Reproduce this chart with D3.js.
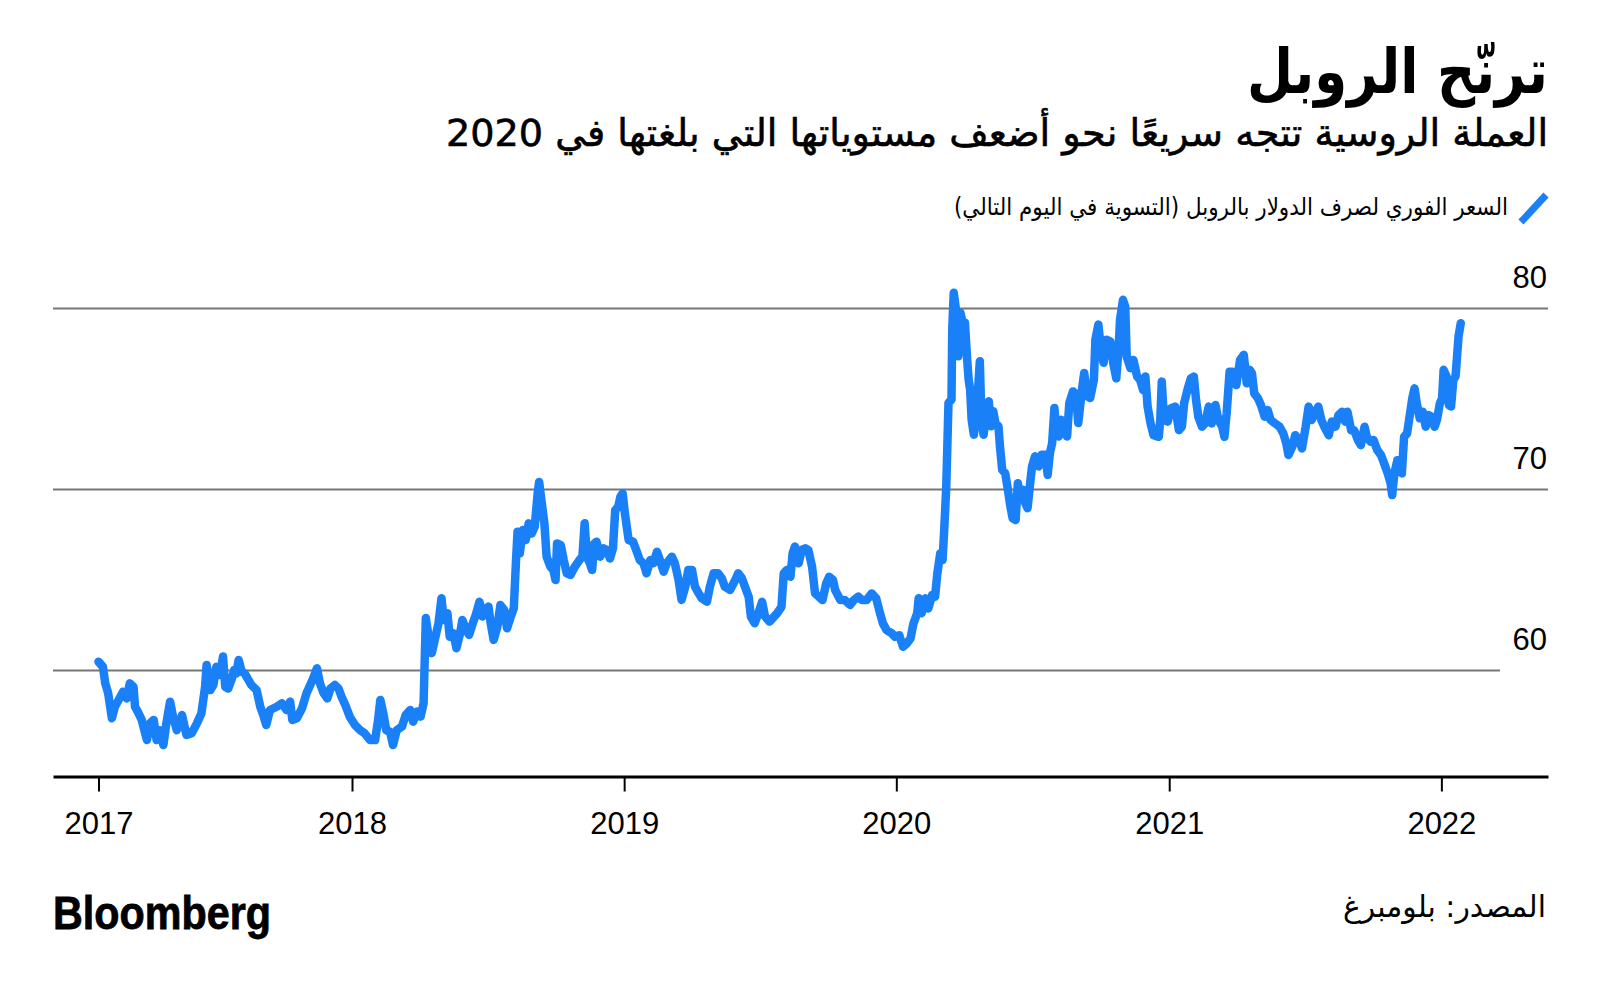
<!DOCTYPE html>
<html>
<head>
<meta charset="utf-8">
<script src="https://cdn.jsdelivr.net/npm/d3@7"></script>
<style>
  body { margin: 0; background: #fff; }
  svg { display: block; }
</style>
</head>
<body>
<svg id="chart" width="1600" height="994"></svg>
<script>

// USD/RUB spot (T+1)
var dates = [
 "2017-01-26","2017-02-01","2017-02-04","2017-02-08","2017-02-13","2017-02-17","2017-02-22","2017-02-28",
 "2017-03-05","2017-03-09","2017-03-14","2017-03-16","2017-03-20","2017-03-25","2017-03-29","2017-04-01",
 "2017-04-05","2017-04-10","2017-04-14","2017-04-18","2017-04-23","2017-04-27","2017-05-02","2017-05-06",
 "2017-05-11","2017-05-18","2017-05-24","2017-05-31","2017-06-07","2017-06-13","2017-06-18","2017-06-20",
 "2017-06-25","2017-06-29","2017-07-03","2017-07-08","2017-07-12","2017-07-15","2017-07-19","2017-07-24",
 "2017-07-27","2017-07-30","2017-08-02","2017-08-06","2017-08-10","2017-08-15","2017-08-19","2017-08-26",
 "2017-08-31","2017-09-04","2017-09-08","2017-09-13","2017-09-22","2017-09-29","2017-10-05","2017-10-10",
 "2017-10-13","2017-10-19","2017-10-26","2017-11-01","2017-11-07","2017-11-10","2017-11-15","2017-11-19",
 "2017-11-24","2017-11-29","2017-12-03","2017-12-09","2017-12-14","2017-12-18","2017-12-23","2017-12-29",
 "2018-01-05","2018-01-12","2018-01-18","2018-01-25","2018-02-01","2018-02-05","2018-02-08","2018-02-12",
 "2018-02-16","2018-02-21","2018-02-25","2018-03-02","2018-03-09","2018-03-14","2018-03-20","2018-03-24",
 "2018-03-29","2018-04-03","2018-04-07","2018-04-10","2018-04-13","2018-04-18","2018-04-22","2018-04-27",
 "2018-05-01","2018-05-04","2018-05-09","2018-05-12","2018-05-17","2018-05-21","2018-05-26","2018-05-29",
 "2018-06-03","2018-06-07","2018-06-12","2018-06-16","2018-06-21","2018-06-25","2018-06-30","2018-07-03",
 "2018-07-06","2018-07-10","2018-07-15","2018-07-19","2018-07-24","2018-07-28","2018-08-02","2018-08-06",
 "2018-08-09","2018-08-11","2018-08-14","2018-08-18","2018-08-22","2018-08-26","2018-08-30","2018-09-03",
 "2018-09-07","2018-09-09","2018-09-12","2018-09-16","2018-09-19","2018-09-24","2018-09-28","2018-10-01",
 "2018-10-03","2018-10-08","2018-10-12","2018-10-16","2018-10-21","2018-10-27","2018-11-02","2018-11-06",
 "2018-11-09","2018-11-12","2018-11-16","2018-11-19","2018-11-22","2018-11-25","2018-11-30","2018-12-04",
 "2018-12-09","2018-12-13","2018-12-17","2018-12-20","2018-12-24","2018-12-27","2018-12-30","2019-01-02",
 "2019-01-07","2019-01-13","2019-01-18","2019-01-22","2019-01-27","2019-01-31","2019-02-05","2019-02-09",
 "2019-02-14","2019-02-18","2019-02-23","2019-02-27","2019-03-06","2019-03-10","2019-03-15","2019-03-19",
 "2019-03-24","2019-03-28","2019-04-02","2019-04-06","2019-04-11","2019-04-15","2019-04-22","2019-04-26",
 "2019-05-01","2019-05-07","2019-05-12","2019-05-16","2019-05-23","2019-05-30","2019-06-03","2019-06-08",
 "2019-06-12","2019-06-17","2019-06-20","2019-06-25","2019-06-30","2019-07-05","2019-07-09","2019-07-15",
 "2019-07-25","2019-07-31","2019-08-03","2019-08-07","2019-08-12","2019-08-15","2019-08-18","2019-08-23",
 "2019-08-27","2019-09-01","2019-09-05","2019-09-10","2019-09-14","2019-09-19","2019-09-24","2019-09-29",
 "2019-10-03","2019-10-08","2019-10-11","2019-10-18","2019-10-24","2019-10-31","2019-11-05","2019-11-11",
 "2019-11-16","2019-11-22","2019-11-29","2019-12-05","2019-12-09","2019-12-14","2019-12-19","2019-12-26",
 "2019-12-30","2020-01-05","2020-01-10","2020-01-15","2020-01-20","2020-01-24","2020-01-29","2020-01-31",
 "2020-02-04","2020-02-09","2020-02-13","2020-02-18","2020-02-22","2020-02-25","2020-02-29","2020-03-03",
 "2020-03-05","2020-03-08","2020-03-10","2020-03-11","2020-03-15","2020-03-16","2020-03-18","2020-03-21",
 "2020-03-24","2020-03-27","2020-03-30","2020-04-02","2020-04-05","2020-04-07","2020-04-09","2020-04-11",
 "2020-04-14","2020-04-18","2020-04-22","2020-04-24","2020-04-27","2020-05-01","2020-05-04","2020-05-07",
 "2020-05-10","2020-05-13","2020-05-17","2020-05-19","2020-05-22","2020-05-26","2020-05-29","2020-06-02",
 "2020-06-05","2020-06-09","2020-06-12","2020-06-15","2020-06-19","2020-06-22","2020-06-25","2020-06-29",
 "2020-07-01","2020-07-05","2020-07-10","2020-07-14","2020-07-19","2020-07-22","2020-07-25","2020-07-28",
 "2020-07-31","2020-08-02","2020-08-06","2020-08-09","2020-08-12","2020-08-17","2020-08-20","2020-08-25",
 "2020-08-29","2020-09-01","2020-09-06","2020-09-09","2020-09-13","2020-09-17","2020-09-22","2020-09-24",
 "2020-09-28","2020-10-01","2020-10-05","2020-10-09","2020-10-14","2020-10-18","2020-10-22","2020-10-25",
 "2020-10-27","2020-10-31","2020-11-03","2020-11-05","2020-11-10","2020-11-14","2020-11-19","2020-11-23",
 "2020-11-27","2020-11-30","2020-12-03","2020-12-07","2020-12-11","2020-12-18","2020-12-20","2020-12-22",
 "2020-12-25","2020-12-30","2021-01-03","2021-01-09","2021-01-14","2021-01-18","2021-01-21","2021-01-26",
 "2021-01-30","2021-02-03","2021-02-06","2021-02-09","2021-02-14","2021-02-18","2021-02-23","2021-02-27",
 "2021-03-04","2021-03-08","2021-03-13","2021-03-16","2021-03-19","2021-03-23","2021-03-27","2021-04-01",
 "2021-04-06","2021-04-11","2021-04-15","2021-04-19","2021-04-22","2021-04-25","2021-04-30","2021-05-04",
 "2021-05-09","2021-05-13","2021-05-17","2021-05-23","2021-05-29","2021-06-03","2021-06-07","2021-06-10",
 "2021-06-15","2021-06-19","2021-06-24","2021-06-28","2021-07-03","2021-07-07","2021-07-11","2021-07-16",
 "2021-07-20","2021-07-24","2021-07-28","2021-08-03","2021-08-07","2021-08-12","2021-08-16","2021-08-21",
 "2021-08-25","2021-08-28","2021-09-02","2021-09-06","2021-09-11","2021-09-15","2021-09-20","2021-09-23",
 "2021-09-28","2021-10-02","2021-10-07","2021-10-12","2021-10-17","2021-10-21","2021-10-25","2021-10-27",
 "2021-10-30","2021-11-03","2021-11-06","2021-11-09","2021-11-12","2021-11-16","2021-11-20","2021-11-23",
 "2021-11-26","2021-11-29","2021-12-03","2021-12-07","2021-12-11","2021-12-15","2021-12-19","2021-12-23",
 "2021-12-26","2021-12-30","2022-01-02","2022-01-04","2022-01-08","2022-01-11","2022-01-14","2022-01-17",
 "2022-01-20","2022-01-22","2022-01-24","2022-01-27"
];

var rates = [
 60.49,60.2,59.3,58.74,57.36,58.0,58.37,58.83,
 58.46,59.29,59.1,58.0,57.7,57.27,56.62,56.16,
 57.08,57.27,56.16,56.7,55.88,57.08,58.28,57.45,
 56.7,57.54,56.44,56.53,57.08,57.63,59.1,60.3,
 58.92,59.2,60.2,59.75,60.77,59.1,59.0,59.57,
 60.03,59.84,60.58,59.94,59.84,59.48,59.2,58.92,
 58.0,57.54,56.99,57.82,58.0,58.19,57.82,58.28,
 57.27,57.36,57.91,58.74,59.29,59.57,60.12,59.29,
 58.74,58.46,59.0,59.2,59.0,58.55,58.09,57.45,
 56.99,56.7,56.53,56.16,56.16,57.27,58.37,57.63,
 56.7,56.62,55.88,56.7,56.9,57.54,57.82,57.17,
 57.73,57.45,58.19,62.9,62.06,60.96,61.69,62.61,
 63.99,62.79,63.16,61.87,62.06,61.23,62.06,62.79,
 62.24,61.97,62.61,63.07,63.8,62.98,63.44,63.53,
 62.61,61.69,62.43,63.62,63.35,62.33,62.98,63.44,
 66.1,67.67,66.47,67.76,67.21,68.13,67.57,67.94,
 69.78,70.42,69.41,68.13,66.29,65.74,65.55,65.0,
 67.02,66.93,66.1,65.37,65.28,65.74,66.1,66.29,
 68.13,66.29,65.92,65.55,67.02,67.11,66.29,66.75,
 66.65,66.19,66.75,68.86,69.04,69.6,69.78,68.68,
 67.21,67.11,66.56,66.1,65.92,65.37,66.1,65.92,
 66.56,66.1,65.46,65.92,66.29,65.92,65.0,63.9,
 64.63,65.55,65.55,64.63,64.26,63.99,63.8,64.63,
 65.37,65.37,65.09,64.63,64.45,65.0,65.37,65.09,
 64.63,64.08,62.98,62.61,63.16,63.8,62.98,62.7,
 63.16,63.52,65.37,65.55,65.18,66.48,66.85,65.92,
 66.66,66.75,66.66,65.74,64.26,64.08,63.89,64.82,
 65.18,65.0,64.45,63.89,63.89,63.62,63.89,64.08,
 63.89,63.89,64.26,63.99,63.34,62.6,62.23,62.05,
 61.86,61.95,61.31,61.49,61.77,62.6,63.16,63.99,
 63.16,63.99,63.43,64.17,64.08,65.37,66.48,66.11,
 67.58,70.17,73.3,74.78,74.96,78.84,80.87,79.94,
 77.36,79.76,79.21,79.21,77.18,76.07,75.52,73.86,
 73.03,74.41,77.08,74.04,73.03,74.22,74.87,73.49,
 74.32,73.67,73.49,72.38,71.09,70.9,70.17,69.06,
 68.41,68.32,70.35,69.61,69.98,69.24,68.97,70.54,
 71.27,71.83,71.27,71.92,71.92,70.81,72.01,72.56,
 74.5,73.49,72.93,73.86,73.49,72.93,74.78,75.42,
 75.24,73.67,75.52,76.44,75.15,75.06,76.07,78.28,
 79.11,77.92,77.0,78.28,78.17,76.97,76.14,77.71,
 79.37,80.48,80.11,77.34,76.7,77.16,76.24,76.05,
 75.5,76.24,74.58,73.65,73.0,72.91,73.84,75.96,
 73.84,73.75,74.48,74.58,73.28,73.47,74.76,75.59,
 76.14,76.24,74.94,74.02,73.47,73.65,74.58,73.65,
 74.67,73.84,73.47,72.91,74.21,76.51,76.51,75.77,
 77.16,77.44,75.87,76.61,76.42,75.31,75.04,74.67,
 74.02,74.39,73.84,73.65,73.47,73.1,72.55,71.9,
 72.36,73.0,72.73,72.27,73.47,74.58,73.84,74.3,
 74.58,73.84,73.47,73.0,73.75,73.47,74.11,74.3,
 73.75,74.3,73.28,73.28,72.73,72.45,73.47,72.91,
 72.64,72.73,72.18,71.9,71.35,70.89,70.33,69.69,
 70.89,71.62,71.62,70.89,72.91,73.1,74.21,75.04,
 75.59,74.76,73.93,74.3,73.47,74.11,74.02,73.47,
 73.84,74.76,75.04,76.61,76.24,74.67,74.58,76.05,
 76.24,77.34,78.45,79.19
];

var yearTicks = ["2017-01-26","2018-01-01","2019-01-01","2020-01-01","2021-01-01","2022-01-01"];
var yearLabels = ["2017","2018","2019","2020","2021","2022"];
var rateTicks = [60, 70, 80];

var title = "ترنّح الروبل";
var subtitle = "العملة الروسية تتجه سريعًا نحو أضعف مستوياتها التي بلغتها في 2020";
var legendText = "السعر الفوري لصرف الدولار بالروبل (التسوية في اليوم التالي)";
var sourceText = "المصدر: بلومبرغ";

//====================================================================================

var parse = d3.timeParse("%Y-%m-%d");
var data = dates.map(function(d, i){ return {date: parse(d), value: rates[i]}; });

var left = 53, right = 1548, axisY = 776.5;
var arabic = "'DejaVu Sans', 'Noto Sans', sans-serif";
var latin = "'Liberation Sans', Arial, Helvetica, sans-serif";
var blue = "#1a80f7";

var svg = d3.select("#chart");

var x = d3.scaleTime()
    .domain([parse("2016-11-26"), parse("2022-05-24")])
    .range([left, right]);

var y = d3.scaleLinear()
    .domain([60, 80])
    .range([670.5, 308.5]);

// header
svg.append("text")
    .attr("x", right).attr("y", 93)
    .attr("direction", "rtl").attr("text-anchor", "start")
    .attr("textLength", 301).attr("lengthAdjust", "spacingAndGlyphs")
    .style("font-family", arabic).style("font-weight", "bold")
    .style("font-size", "62px").style("fill", "#000")
    .text(title);

svg.append("text")
    .attr("x", right).attr("y", 146)
    .attr("direction", "rtl").attr("text-anchor", "start")
    .attr("textLength", 1102).attr("lengthAdjust", "spacingAndGlyphs")
    .style("font-family", arabic)
    .style("font-size", "38px").style("fill", "#000")
    .style("stroke", "#000").style("stroke-width", 0.6)
    .text(subtitle);

// legend
svg.append("line")
    .attr("x1", 1521).attr("y1", 222)
    .attr("x2", 1546).attr("y2", 195)
    .attr("stroke", blue).attr("stroke-width", 7);

svg.append("text")
    .attr("x", 1508).attr("y", 215)
    .attr("direction", "rtl").attr("text-anchor", "start")
    .attr("textLength", 554).attr("lengthAdjust", "spacingAndGlyphs")
    .style("font-family", arabic)
    .style("font-size", "24px").style("fill", "#000")
    .text(legendText);

// gridlines + value labels
var grid = svg.append("g");
grid.selectAll("line")
    .data(rateTicks)
    .enter().append("line")
    .attr("x1", left)
    .attr("x2", function(d){ return d === 60 ? 1500 : right; })
    .attr("y1", function(d){ return y(d); })
    .attr("y2", function(d){ return y(d); })
    .attr("stroke", "#777").attr("stroke-width", 2);

grid.selectAll("text")
    .data(rateTicks)
    .enter().append("text")
    .attr("x", right - 1)
    .attr("y", function(d){ return y(d) - 21; })
    .attr("text-anchor", "end")
    .style("font-family", latin).style("font-size", "31px").style("fill", "#000")
    .text(function(d){ return d; });

// x axis
var xAxis = d3.axisBottom(x)
    .tickValues(yearTicks.map(parse))
    .tickFormat(function(d, i){ return yearLabels[i]; })
    .tickSize(15)
    .tickSizeOuter(0)
    .tickPadding(20);

var gx = svg.append("g")
    .attr("transform", "translate(0," + axisY + ")")
    .call(xAxis);
gx.select(".domain").attr("stroke", "#000").attr("stroke-width", 3);
gx.selectAll(".tick line").attr("stroke", "#000").attr("stroke-width", 2);
gx.selectAll(".tick text")
    .style("font-family", latin).style("font-size", "31px").style("fill", "#000");

// the series
var line = d3.line()
    .x(function(d){ return x(d.date); })
    .y(function(d){ return y(d.value); });

svg.append("path")
    .datum(data)
    .attr("d", line)
    .attr("fill", "none")
    .attr("stroke", blue)
    .attr("stroke-width", 8.5)
    .attr("stroke-linejoin", "round")
    .attr("stroke-linecap", "round");

// footer
svg.append("text")
    .attr("x", left).attr("y", 929)
    .attr("textLength", 218).attr("lengthAdjust", "spacingAndGlyphs")
    .style("font-family", latin).style("font-weight", "bold")
    .style("font-size", "46px").style("fill", "#000")
    .style("stroke", "#000").style("stroke-width", 0.8)
    .text("Bloomberg");

svg.append("text")
    .attr("x", right - 2).attr("y", 917)
    .attr("direction", "rtl").attr("text-anchor", "start")
    .attr("textLength", 203).attr("lengthAdjust", "spacingAndGlyphs")
    .style("font-family", arabic)
    .style("font-size", "30px").style("fill", "#000")
    .text(sourceText);

</script>
</body>
</html>
